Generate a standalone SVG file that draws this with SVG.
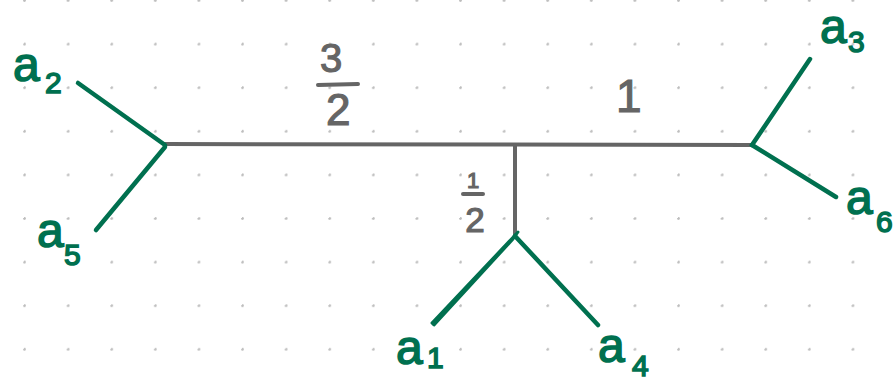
<svg xmlns="http://www.w3.org/2000/svg" width="894" height="383" viewBox="0 0 894 383">
<style>
.g{stroke:#00704f;stroke-width:4.5;stroke-linecap:round;fill:none}
.k{stroke:#656565;stroke-width:4;stroke-linecap:round;fill:none}
.la{font-family:"Liberation Sans",Arial,sans-serif;font-size:48px;fill:#00704f;stroke:#00704f;stroke-width:1.5}
.ls{font-family:"Liberation Sans",Arial,sans-serif;font-size:30px;fill:#00704f;stroke:#00704f;stroke-width:1.5}
.w{font-family:"Liberation Sans",Arial,sans-serif;fill:#656565;stroke:#656565;stroke-width:1.2}
</style>
<defs>
<pattern id="dots" x="24" y="0" width="43.6" height="43.6" patternUnits="userSpaceOnUse">
<circle cx="0.5" cy="0.5" r="1.4" fill="#bdbdbd"/>
<circle cx="44.1" cy="0.5" r="1.4" fill="#bdbdbd"/>
<circle cx="0.5" cy="44.1" r="1.4" fill="#bdbdbd"/>
</pattern>
</defs>
<rect width="894" height="383" fill="#fff"/>
<rect width="894" height="383" fill="url(#dots)"/>
<g id="connectors">
<line class="k" x1="165" y1="144" x2="750" y2="145"/>
<line class="k" x1="515" y1="145" x2="515" y2="234"/>
<line class="g" x1="78" y1="83" x2="165" y2="145"/>
<line class="g" x1="96" y1="230" x2="165" y2="147"/>
<line class="g" x1="810" y1="59" x2="752" y2="145"/>
<line class="g" x1="752" y1="145" x2="836" y2="197"/>
<path d="M518 232 L513 239 L434 325 L432 323 Z" fill="#00704f" stroke="#00704f" stroke-width="3" stroke-linejoin="round"/>
<line class="g" x1="515" y1="236" x2="598" y2="325"/>
</g>
<g id="edge-labels">
<g id="w32">
<text class="w" x="320" y="72" font-size="40">3</text>
<line class="k" x1="318" y1="85" x2="358" y2="84"/>
<text class="w" x="326" y="125" font-size="44">2</text>
</g>
<g id="w1"><text class="w" x="616" y="112" font-size="46">1</text></g>
<g id="w12">
<text class="w" x="473" y="188" font-size="22" text-anchor="middle">1</text>
<line class="k" x1="463" y1="194" x2="483" y2="194"/>
<text class="w" x="475" y="232" font-size="35" text-anchor="middle">2</text>
</g>
</g>
<g id="node-a2"><text class="la" x="13" y="81">a</text><text class="ls" x="45" y="93">2</text></g>
<g id="node-a5"><text class="la" x="37" y="247">a</text><text class="ls" x="64" y="265">5</text></g>
<g id="node-a1"><text class="la" x="396" y="364">a</text><text class="ls" x="427" y="368">1</text></g>
<g id="node-a4"><text class="la" x="598" y="362">a</text><text class="ls" x="632" y="376">4</text></g>
<g id="node-a3"><text class="la" x="820" y="43">a</text><text class="ls" x="848" y="52">3</text></g>
<g id="node-a6"><text class="la" x="846" y="214">a</text><text class="ls" x="876" y="232">6</text></g>
</svg>
